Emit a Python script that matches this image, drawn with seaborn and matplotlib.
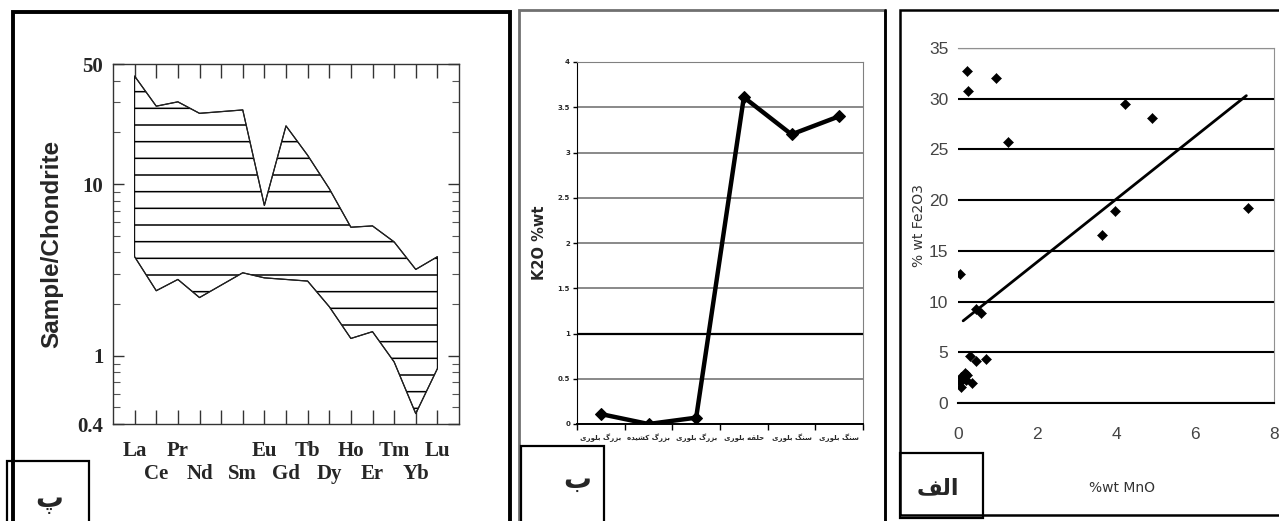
import numpy as np
import pandas as pd
import matplotlib
matplotlib.use('Agg')
import matplotlib.pyplot as plt
import seaborn as sns
from matplotlib.patches import Rectangle
from matplotlib.ticker import FixedLocator

# --- dados ---
ree = ['La', 'Ce', 'Pr', 'Nd', 'Pm', 'Sm', 'Eu', 'Gd', 'Tb', 'Dy', 'Ho', 'Er', 'Tm', 'Yb', 'Lu']
ree_upper = [42.5, 28.4, 30.1, 25.8, np.nan, 27.0, 7.5, 21.8, 14.7, 9.4, 5.6, 5.7, 4.6, 3.18, 3.77]
ree_lower = [3.77, 2.39, 2.78, 2.18, np.nan, 3.04, 2.84, 2.78, 2.72, 1.93, 1.26, 1.38, 0.92, 0.46, 0.84]
ree_ticks = [0.4, 1, 10, 50]

k2o_samples = ['بزرگ بلوری', 'بزرگ کشیده', 'بزرگ بلوری', 'حلقه بلوری', 'سنگ بلوری', 'سنگ بلوری']
k2o_values = [0.11, 0.0, 0.07, 3.61, 3.20, 3.40]

mno = [0.23, 0.25, 0.95, 1.27, 4.22, 4.92, 3.97, 3.65, 7.33, 0.06, 0.45, 0.57,
       0.30, 0.45, 0.70, 0.08, 0.17, 0.23, 0.08, 0.35, 0.04, 0.21]
fe2o3 = [32.7, 30.8, 32.0, 25.7, 29.5, 28.1, 18.9, 16.6, 19.2, 12.7, 9.3, 8.9,
         4.6, 4.1, 4.3, 2.6, 3.0, 2.8, 1.6, 2.0, 2.1, 2.3]
trend_mno = [0.13, 7.3]
trend_fe2o3 = [8.1, 30.3]

panel_labels = ['پ', 'ب', 'الف']

# formas de apresentação para escrita persa (matplotlib não faz shaping)
FORMS = {
    'ا': ('\uFE8D', '\uFE8E', None, None),
    'ب': ('\uFE8F', '\uFE90', '\uFE91', '\uFE92'),
    'پ': ('\uFB56', '\uFB57', '\uFB58', '\uFB59'),
    'ح': ('\uFEA1', '\uFEA2', '\uFEA3', '\uFEA4'),
    'د': ('\uFEA9', '\uFEAA', None, None),
    'ر': ('\uFEAD', '\uFEAE', None, None),
    'ز': ('\uFEAF', '\uFEB0', None, None),
    'س': ('\uFEB1', '\uFEB2', '\uFEB3', '\uFEB4'),
    'ش': ('\uFEB5', '\uFEB6', '\uFEB7', '\uFEB8'),
    'ف': ('\uFED1', '\uFED2', '\uFED3', '\uFED4'),
    'ق': ('\uFED5', '\uFED6', '\uFED7', '\uFED8'),
    'ک': ('\uFB8E', '\uFB8F', '\uFB90', '\uFB91'),
    'گ': ('\uFB92', '\uFB93', '\uFB94', '\uFB95'),
    'ل': ('\uFEDD', '\uFEDE', '\uFEDF', '\uFEE0'),
    'ن': ('\uFEE5', '\uFEE6', '\uFEE7', '\uFEE8'),
    'و': ('\uFEED', '\uFEEE', None, None),
    'ه': ('\uFEE9', '\uFEEA', '\uFEEB', '\uFEEC'),
    'ی': ('\uFBFC', '\uFBFD', '\uFBFE', '\uFBFF'),
}


def shape_fa(text):
    out = []
    for i, c in enumerate(text):
        if c not in FORMS:
            out.append(c)
            continue
        prev = text[i - 1] if i > 0 else ''
        nxt = text[i + 1] if i + 1 < len(text) else ''
        j_prev = prev in FORMS and FORMS[prev][2] is not None
        j_next = nxt in FORMS and FORMS[c][2] is not None
        iso, fin, ini, med = FORMS[c]
        if j_prev and j_next:
            out.append(med)
        elif j_prev:
            out.append(fin)
        elif j_next:
            out.append(ini)
        else:
            out.append(iso)
    return ''.join(out)[::-1]


sns.set_style('white')
plt.rcParams['font.family'] = ['DejaVu Sans']
plt.rcParams['hatch.linewidth'] = 1.1

W, H = 1279, 521
fig = plt.figure(figsize=(W / 100, H / 100), dpi=100)


def px_axes(l, t, r, b):
    return fig.add_axes([l / W, 1 - b / H, (r - l) / W, (b - t) / H])


def px_rect(l, t, r, b, **kw):
    fig.add_artist(Rectangle((l / W, 1 - b / H), (r - l) / W, (b - t) / H,
                             transform=fig.transFigure, fill=False, clip_on=False, **kw))


def px_text(x, y, s, **kw):
    fig.text(x / W, 1 - y / H, s, ha='center', va='center', **kw)


# molduras dos painéis
px_rect(13, 12, 510, 540, edgecolor='black', lw=2.8)
px_rect(519, 10, 885, 540, edgecolor='#707070', lw=2.0)
fig.add_artist(plt.Line2D([885 / W, 885 / W], [1 - 10 / H, 0], transform=fig.transFigure, color='black', lw=2.0))
px_rect(900, 10, 1290, 515, edgecolor='black', lw=1.8)

# --- Painel 1: diagrama de ETR ---
df_ree = pd.DataFrame({'pos': np.arange(len(ree)), 'upper': ree_upper, 'lower': ree_lower}).dropna()
ax1 = px_axes(113, 64, 459, 424)
ax1.fill_between(df_ree['pos'], df_ree['lower'], df_ree['upper'], facecolor='none',
                 edgecolor='black', hatch='-', lw=0.8)
sns.lineplot(data=df_ree, x='pos', y='upper', color='#222222', lw=0.9, ax=ax1)
sns.lineplot(data=df_ree, x='pos', y='lower', color='#222222', lw=0.9, ax=ax1)
ax1.set_yscale('log')
ax1.set_ylim(0.4, 50)
ax1.set_xlim(-1, 15)
ax1.yaxis.set_major_locator(FixedLocator(ree_ticks))
ax1.set_yticklabels([f'{v:g}' for v in ree_ticks])
ax1.yaxis.set_minor_locator(FixedLocator([0.5, 0.6, 0.7, 0.8, 0.9, 2, 3, 4, 5, 6, 7, 8, 9, 20, 30, 40]))
ax1.yaxis.set_minor_formatter(plt.NullFormatter())
# rótulos alternados em duas linhas: pares na linha de cima, ímpares embaixo
pos_even = np.arange(0, len(ree), 2)
pos_odd = np.arange(1, len(ree), 2)
ax1.set_xticks(pos_even)
ax1.set_xticklabels(['' if ree[i] == 'Pm' else ree[i] for i in pos_even])
ax1.set_xticks(pos_odd, minor=True)
ax1.set_xticklabels([ree[i] for i in pos_odd], minor=True)
ax1.tick_params(axis='x', which='both', direction='in', top=True, bottom=True, length=10, width=1,
                labelsize=15, color='#333333')
ax1.tick_params(axis='x', which='major', pad=12)
ax1.tick_params(axis='x', which='minor', pad=29)
ax1.tick_params(axis='y', which='major', direction='in', left=True, right=True, length=8, width=1,
                pad=7, labelsize=15, color='#333333')
ax1.tick_params(axis='y', which='minor', direction='in', left=True, right=True, length=5, width=0.8,
                color='#555555')
for lab in (ax1.get_xticklabels() + ax1.get_xticklabels(minor=True) + ax1.get_yticklabels()):
    lab.set_fontfamily(['Liberation Serif', 'DejaVu Serif'])
    lab.set_fontweight('bold')
for s in ax1.spines.values():
    s.set_color('#333333')
    s.set_linewidth(1.0)
ax1.set_xlabel('')
ax1.set_ylabel('Sample/Chondrite', fontsize=17.5, fontweight='bold',
               fontfamily=['Liberation Sans', 'DejaVu Sans'])
ax1.yaxis.set_label_coords(-0.145, 0.5)

# --- Painel 2: K2O ---
ax2 = px_axes(577, 62, 863, 424)
pos2 = np.arange(len(k2o_values))
sns.lineplot(x=pos2, y=k2o_values, color='black', lw=3.2, marker='D', markersize=6,
             markeredgecolor='black', ax=ax2)
ax2.set_xlim(-0.5, len(k2o_values) - 0.5)
ax2.set_ylim(0, 4)
yt2 = np.arange(0, 4.01, 0.5)
ax2.set_yticks(yt2)
ax2.set_yticklabels([f'{v:g}' for v in yt2], fontsize=5, fontweight='bold')
ax2.yaxis.grid(True, color='#808080', lw=1.3)
ax2.get_ygridlines()[2].set_color('black')
ax2.get_ygridlines()[2].set_linewidth(1.6)
ax2.set_axisbelow(True)
ax2.set_xticks(np.arange(-0.5, len(k2o_values)), minor=False)
ax2.set_xticklabels([])
ax2.set_xticks(pos2, minor=True)
ax2.set_xticklabels([shape_fa(s) for s in k2o_samples], minor=True, fontsize=5, fontweight='bold')
ax2.tick_params(axis='x', which='major', direction='out', bottom=True, length=4, width=1, color='black')
ax2.tick_params(axis='x', which='minor', length=0, pad=7)
ax2.tick_params(axis='y', direction='out', left=True, length=3, width=1, pad=2, color='black')
ax2.spines['left'].set_color('black')
ax2.spines['bottom'].set_color('black')
ax2.spines['bottom'].set_linewidth(1.4)
ax2.spines['top'].set_color('#808080')
ax2.spines['right'].set_color('#808080')
ax2.set_ylabel('K2O %wt', fontsize=10.5, fontweight='bold')
ax2.yaxis.set_label_coords(-0.105, 0.5)

# --- Painel 3: Fe2O3 vs MnO ---
ax3 = px_axes(958, 48, 1274, 403)
sns.scatterplot(x=mno, y=fe2o3, marker='D', s=26, color='black', edgecolor='black', ax=ax3)
sns.lineplot(x=trend_mno, y=trend_fe2o3, color='black', lw=2.0, ax=ax3)
ax3.set_xlim(0, 8)
ax3.set_ylim(0, 35)
yt3 = np.arange(0, 36, 5)
ax3.set_yticks(yt3)
ax3.set_yticklabels([f'{v:g}' for v in yt3])
ax3.set_xticks([0, 2, 4, 6, 8])
ax3.set_xticklabels(['0', '2', '4', '6', '8'])
ax3.yaxis.grid(True, color='black', lw=1.5)
ax3.get_ygridlines()[-1].set_color('#909090')
ax3.get_ygridlines()[-1].set_linewidth(1.0)
ax3.set_axisbelow(True)
ax3.tick_params(axis='y', direction='out', length=3, width=1, pad=4, labelsize=12.5,
                labelcolor='#444444', color='#666666')
ax3.tick_params(axis='x', direction='out', length=8, width=1, pad=9, labelsize=12.5,
                labelcolor='#444444', color='#444444')
for lab in ax3.get_xticklabels() + ax3.get_yticklabels():
    lab.set_fontfamily(['Liberation Sans', 'DejaVu Sans'])
ax3.spines['left'].set_visible(False)
ax3.spines['bottom'].set_color('black')
ax3.spines['bottom'].set_linewidth(1.5)
ax3.spines['top'].set_color('#909090')
ax3.spines['right'].set_color('#909090')
ax3.set_xlabel('%wt MnO', fontsize=10, color='#333333')
ax3.xaxis.set_label_coords(0.52, -0.22)
ax3.set_ylabel('% wt Fe2O3', fontsize=10, color='#333333')
ax3.yaxis.set_label_coords(-0.10, 0.5)

# caixas de rótulo dos painéis
px_rect(7, 461, 89, 540, edgecolor='black', lw=1.6)
px_rect(521, 446, 604, 540, edgecolor='black', lw=1.6)
px_rect(900, 453, 983, 518, edgecolor='black', lw=1.6)
px_text(49, 500, shape_fa(panel_labels[0]), fontsize=20, fontweight='bold')
px_text(577, 480, shape_fa(panel_labels[1]), fontsize=20, fontweight='bold')
px_text(938, 488, shape_fa(panel_labels[2]), fontsize=16, fontweight='bold')

fig.savefig('out.png', dpi=100)
